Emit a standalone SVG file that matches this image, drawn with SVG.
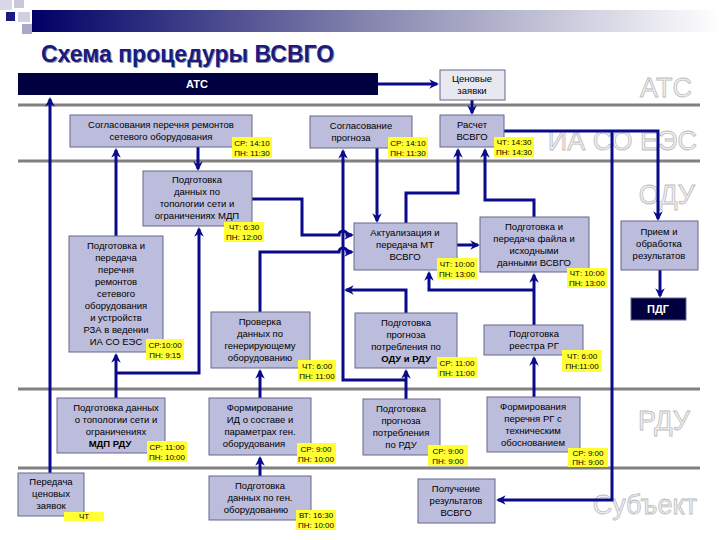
<svg xmlns="http://www.w3.org/2000/svg" width="720" height="540" viewBox="0 0 720 540">
<defs>
<linearGradient id="bar" x1="0" x2="1" y1="0" y2="0">
<stop offset="0" stop-color="#000066"/><stop offset="0.5" stop-color="#8888b0"/><stop offset="1" stop-color="#ffffff"/>
</linearGradient>
<marker id="ah" viewBox="0 0 10 10" refX="8" refY="5" markerWidth="3.2" markerHeight="3.2" orient="auto">
<path d="M0,0 L10,5 L0,10 L3,5 Z" fill="#0a0a8c"/>
</marker>
<style>
text{font-family:"Liberation Sans",Arial,sans-serif}
.b{fill:#bcbcdc;stroke:#66668a;stroke-width:1}
.t{font-size:9.5px;fill:#000;text-anchor:middle}
.tag{fill:#ffff33}
.tg{font-size:8px;fill:#000;text-anchor:middle}
.lane{stroke:#808080;stroke-width:3}
.ll{font-size:27px;fill:#f2f2f2;stroke:#bcbcbc;stroke-width:0.8;text-anchor:end}
.c path{fill:none;stroke:#0a0a8c;stroke-width:3}
.c .a{marker-end:url(#ah)}
</style>
</defs>
<rect width="720" height="540" fill="#fff"/>
<rect x="32" y="10" width="688" height="22" fill="url(#bar)"/>
<rect x="0" y="0" width="12" height="10" fill="#d8d8e8"/>
<rect x="14" y="0" width="10" height="8" fill="#c8c8dc"/>
<rect x="6" y="12" width="9" height="9" fill="#1a1a80"/>
<rect x="18" y="12" width="12" height="10" fill="#d0d0e0"/>
<rect x="22" y="24" width="10" height="10" fill="#a8a8c8"/>
<text x="42" y="63" font-size="23" font-weight="bold" fill="#9090a0">Схема процедуры ВСВГО</text>
<text x="41" y="62" font-size="23" font-weight="bold" fill="#1a1a80">Схема процедуры ВСВГО</text>

<g id="lanes">
<line class="lane" x1="18" y1="105" x2="700" y2="105"/>
<line class="lane" x1="18" y1="161" x2="700" y2="161"/>
<line class="lane" x1="18" y1="389" x2="700" y2="389"/>
<line class="lane" x1="18" y1="468" x2="700" y2="468"/>
<text class="ll" x="692" y="97">АТС</text>
<text class="ll" x="697" y="150">ИА СО ЕЭС</text>
<text class="ll" x="695" y="204">ОДУ</text>
<text class="ll" x="690" y="430">РДУ</text>
<text class="ll" x="697" y="514">Субъект</text>
</g>

<g class="c" id="connectors">
<path class="a" d="M50,473 V99"/>
<path class="a" d="M378,84 H437"/>
<path class="a" d="M472,100 V113"/>
<path class="a" d="M116,236 V150"/>
<path class="a" d="M198,147 V169"/>
<path class="a" d="M116,398 V355"/>
<path class="a" d="M117,373 H199 V229"/>
<path class="a" d="M252,199 H302 V235 H339 a4,4 0 0 1 8,0 H352"/>
<path class="a" d="M260,312 V252 H339 a4,4 0 0 1 8,0 H352"/>
<path class="a" d="M406,399 V371"/>
<path class="a" d="M406,380 H343 V151"/>
<path class="a" d="M406,313 V290 H346"/>
<path class="a" d="M377,148 V221"/>
<path class="a" d="M457,245 H478"/>
<path class="a" d="M406,223 V193 H458 V150"/>
<path class="a" d="M534,217 V200 H485 V150"/>
<path class="a" d="M504,131 H658 V219"/>
<path class="a" d="M612,131 V500 H498"/>
<path class="a" d="M660,270 V296"/>
<path class="a" d="M534,325 V275"/>
<path class="a" d="M534,290 H429 V273"/>
<path class="a" d="M534,397 V358"/>
<path class="a" d="M260,476 V458"/>
<path class="a" d="M260,398 V371"/>
</g>

<g id="atc"><rect x="18" y="73" width="360" height="22" fill="#000040"/><text x="197" y="88" font-size="11" font-weight="bold" fill="#fff" text-anchor="middle">АТС</text></g>
<g id="n_zayavki"><rect x="440" y="70" width="65" height="30" fill="#e8e8f0" stroke="#66668a"/><text class="t" x="472" y="82">Ценовые</text><text class="t" x="472" y="94">заявки</text></g>

<g id="n1"><rect class="b" x="70" y="115" width="182" height="32"/><text class="t" x="161" y="128">Согласования перечня ремонтов</text><text class="t" x="161" y="140">сетевого оборудования</text>
<rect class="tag" x="232" y="137" width="40" height="21"/><text class="tg" x="252" y="146">СР: 14:10</text><text class="tg" x="252" y="156">ПН: 11:30</text></g>

<g id="n2"><rect class="b" x="310" y="116" width="102" height="32"/><text class="t" x="361" y="129">Согласование</text><text class="t" x="351" y="141">прогноза</text>
<rect class="tag" x="388" y="137" width="40" height="21"/><text class="tg" x="408" y="146">СР: 14:10</text><text class="tg" x="408" y="156">ПН: 11:30</text></g>

<g id="n3"><rect class="b" x="440" y="115" width="64" height="32"/><text class="t" x="472" y="128">Расчет</text><text class="t" x="472" y="140">ВСВГО</text>
<rect class="tag" x="494" y="137" width="40" height="20"/><text class="tg" x="514" y="145">ЧТ: 14:30</text><text class="tg" x="514" y="155">ПН: 14:30</text></g>

<g id="n4"><rect class="b" x="143" y="171" width="109" height="55"/><text class="t" x="197" y="183">Подготовка</text><text class="t" x="197" y="195">данных по</text><text class="t" x="197" y="207">топологии сети и</text><text class="t" x="197" y="219">ограничениях МДП</text>
<rect class="tag" x="224" y="222" width="40" height="20"/><text class="tg" x="244" y="230">ЧТ: 6:30</text><text class="tg" x="244" y="240">ПН: 12:00</text></g>

<g id="n5"><rect class="b" x="69" y="236" width="94" height="116"/>
<text class="t" x="116" y="249">Подготовка и</text><text class="t" x="116" y="261">передача</text><text class="t" x="116" y="273">перечня</text><text class="t" x="116" y="285">ремонтов</text><text class="t" x="116" y="297">сетевого</text><text class="t" x="116" y="309">оборудования</text><text class="t" x="116" y="321">и устройств</text><text class="t" x="116" y="333">РЗА в ведении</text><text class="t" x="116" y="345">ИА СО ЕЭС</text>
<rect class="tag" x="146" y="339" width="38" height="21"/><text class="tg" x="165" y="348">СР:10:00</text><text class="tg" x="165" y="358">ПН: 9:15</text></g>

<g id="n6"><rect class="b" x="211" y="312" width="99" height="56"/><text class="t" x="260" y="325">Проверка</text><text class="t" x="260" y="337">данных по</text><text class="t" x="260" y="349">генерирующему</text><text class="t" x="260" y="361">оборудованию</text>
<rect class="tag" x="298" y="360" width="38" height="21"/><text class="tg" x="317" y="369">ЧТ: 6:00</text><text class="tg" x="317" y="379">ПН: 11:00</text></g>

<g id="n7"><rect class="b" x="354" y="223" width="103" height="47"/><text class="t" x="405" y="236">Актуализация и</text><text class="t" x="405" y="248">передача МТ</text><text class="t" x="405" y="260">ВСВГО</text>
<rect class="tag" x="437" y="258" width="40" height="21"/><text class="tg" x="457" y="267">ЧТ: 10:00</text><text class="tg" x="457" y="277">ПН: 13:00</text></g>

<g id="n8"><rect class="b" x="480" y="217" width="109" height="55"/><text class="t" x="534" y="230">Подготовка и</text><text class="t" x="534" y="242">передача файла и</text><text class="t" x="534" y="254">исходными</text><text class="t" x="534" y="266">данными ВСВГО</text>
<rect class="tag" x="567" y="268" width="40" height="20"/><text class="tg" x="587" y="276">ЧТ: 10:00</text><text class="tg" x="587" y="286">ПН: 13:00</text></g>

<g id="n9"><rect class="b" x="621" y="221" width="77" height="49"/><text class="t" x="659" y="235">Прием и</text><text class="t" x="659" y="247">обработка</text><text class="t" x="659" y="259">результатов</text></g>

<g id="n10"><rect x="631" y="298" width="55" height="22" fill="#000040" stroke="#66668a"/><text x="658" y="313" font-size="11" font-weight="bold" fill="#fff" text-anchor="middle">ПДГ</text></g>

<g id="n11"><rect class="b" x="355" y="313" width="102" height="55"/><text class="t" x="406" y="326">Подготовка</text><text class="t" x="406" y="338">прогноза</text><text class="t" x="406" y="350">потребления по</text><text class="t" x="406" y="362" font-weight="bold">ОДУ и РДУ</text>
<rect class="tag" x="437" y="357" width="40" height="21"/><text class="tg" x="457" y="366">СР: 11:00</text><text class="tg" x="457" y="376">ПН: 11:00</text></g>

<g id="n12"><rect class="b" x="484" y="325" width="99" height="30"/><text class="t" x="534" y="337">Подготовка</text><text class="t" x="534" y="349">реестра РГ</text>
<rect class="tag" x="562" y="350" width="40" height="22"/><text class="tg" x="582" y="359">ЧТ: 6:00</text><text class="tg" x="582" y="369">ПН:11:00</text></g>

<g id="n13"><rect class="b" x="57" y="398" width="108" height="55"/><text class="t" x="116" y="411">Подготовка данных</text><text class="t" x="116" y="423">о топологии сети и</text><text class="t" x="116" y="435">ограничениях</text><text class="t" x="110" y="447" font-weight="bold">МДП РДУ</text>
<rect class="tag" x="147" y="441" width="40" height="21"/><text class="tg" x="167" y="450">СР: 11:00</text><text class="tg" x="167" y="460">ПН: 10:00</text></g>

<g id="n14"><rect class="b" x="209" y="398" width="102" height="57"/><text class="t" x="260" y="411">Формирование</text><text class="t" x="260" y="423">ИД о составе и</text><text class="t" x="260" y="435">параметрах ген.</text><text class="t" x="254" y="447">оборудования</text>
<rect class="tag" x="297" y="443" width="39" height="21"/><text class="tg" x="316" y="452">СР: 9:00</text><text class="tg" x="316" y="462">ПН: 10:00</text></g>

<g id="n15"><rect class="b" x="363" y="399" width="77" height="56"/><text class="t" x="401" y="412">Подготовка</text><text class="t" x="401" y="424">прогноза</text><text class="t" x="401" y="436">потребления</text><text class="t" x="401" y="448">по РДУ</text>
<rect class="tag" x="428" y="445" width="40" height="21"/><text class="tg" x="448" y="454">СР: 9:00</text><text class="tg" x="448" y="464">ПН: 9:00</text></g>

<g id="n16"><rect class="b" x="487" y="397" width="93" height="55"/><text class="t" x="533" y="410">Формирования</text><text class="t" x="533" y="422">перечня РГ с</text><text class="t" x="533" y="434">техническим</text><text class="t" x="533" y="446">обоснованием</text>
<rect class="tag" x="568" y="448" width="40" height="19"/><text class="tg" x="588" y="456">СР: 9:00</text><text class="tg" x="588" y="465">ПН: 9:00</text></g>

<g id="n17"><rect class="b" x="18" y="473" width="66" height="43"/><text class="t" x="51" y="485">Передача</text><text class="t" x="51" y="497">ценовых</text><text class="t" x="51" y="509">заявок</text>
<rect class="tag" x="64" y="512" width="40" height="9"/><text class="tg" x="84" y="519">ЧТ</text></g>

<g id="n18"><rect class="b" x="209" y="476" width="102" height="44"/><text class="t" x="260" y="489">Подготовка</text><text class="t" x="260" y="501">данных по ген.</text><text class="t" x="256" y="513">оборудованию</text>
<rect class="tag" x="296" y="510" width="40" height="20"/><text class="tg" x="316" y="518">ВТ: 16:30</text><text class="tg" x="316" y="528">ПН: 10:00</text></g>

<g id="n19"><rect class="b" x="418" y="479" width="77" height="44"/><text class="t" x="456" y="492">Получение</text><text class="t" x="456" y="504">результатов</text><text class="t" x="456" y="516">ВСВГО</text></g>
</svg>
